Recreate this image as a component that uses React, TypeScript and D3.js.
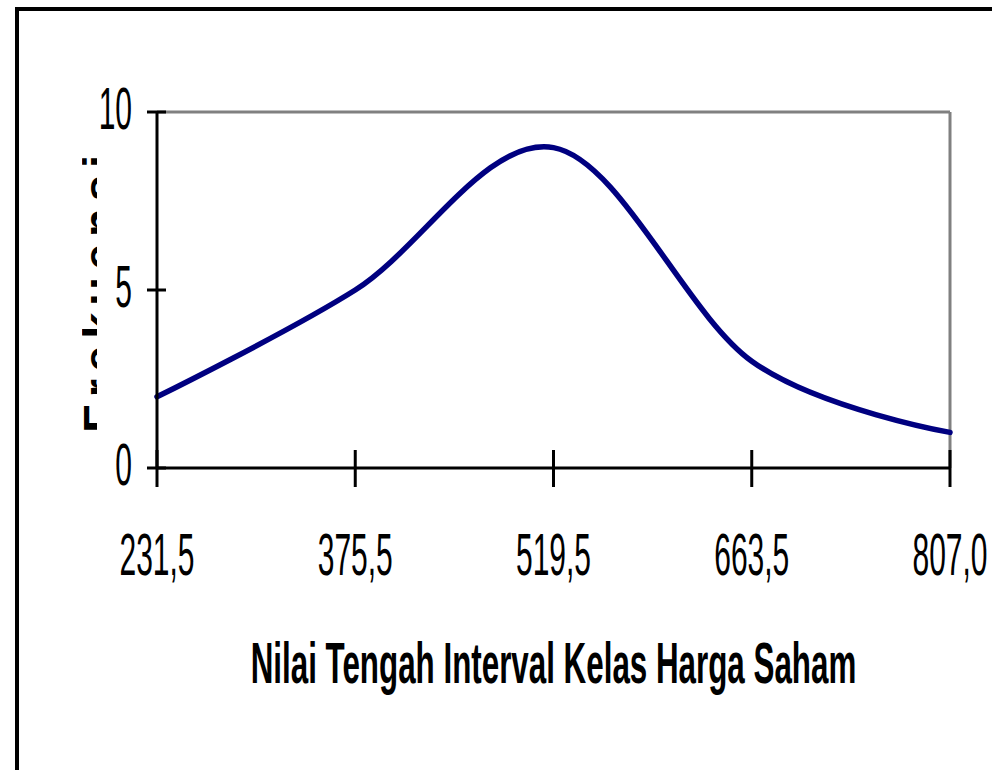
import React from "react";
import * as d3 from "d3";

const categories = ["231,5", "375,5", "519,5", "663,5", "807,0"];
const frequencies = [2, 5, 9, 3, 1];
const yTicks = [0, 5, 10];
const xTitle = "Nilai Tengah Interval Kelas Harga Saham";
const yTitle = "Frekuensi";

const W = 992;
const H = 770;
const left = 157;
const right = 950;
const top = 112;
const bottom = 468;
const FONT = "'Liberation Sans', Arial, sans-serif";

export default function App() {
  const x = d3.scalePoint<string>().domain(categories).range([left, right]);
  const y = d3.scaleLinear().domain([0, 10]).range([bottom, top]);
  const line = d3
    .line<number>()
    .x((_, i) => x(categories[i]) as number)
    .y((d) => y(d))
    .curve(d3.curveCardinal.tension(0));
  const path = line(frequencies) || "";

  return (
    <svg
      width={W}
      height={H}
      style={{ position: "absolute", left: 0, top: 0, background: "#fff" }}
    >
      <defs>
        <clipPath id="ylab">
          <rect x={82} y={0} width={15} height={H} />
        </clipPath>
      </defs>
      <rect x={0} y={0} width={W} height={H} fill="#fff" />
      {/* outer frame */}
      <rect x={17} y={9} width={W + 20} height={H + 20} fill="none" stroke="#000" strokeWidth={4} />

      {/* plot area gray border top & right */}
      <line x1={left} y1={top} x2={right} y2={top} stroke="#808080" strokeWidth={3} />
      <line x1={right} y1={top} x2={right} y2={bottom} stroke="#808080" strokeWidth={3} />

      {/* series */}
      <path d={path} fill="none" stroke="#000080" strokeWidth={5.5} strokeLinejoin="round" strokeLinecap="round" />

      {/* y axis */}
      <line x1={left} y1={top} x2={left} y2={bottom} stroke="#000" strokeWidth={3} />
      {yTicks.map((t) => (
        <g key={t}>
          <line x1={147} x2={166} y1={y(t)} y2={y(t)} stroke="#000" strokeWidth={3} />
          <text
            transform={`translate(132,${y(t) + 17}) scale(0.5,1)`}
            textAnchor="end"
            fontFamily={FONT}
            fontSize={60}
            fill="#000"
          >
            {t}
          </text>
        </g>
      ))}

      {/* x axis */}
      <line x1={left} y1={bottom} x2={right} y2={bottom} stroke="#000" strokeWidth={3} />
      {categories.map((c) => (
        <g key={c}>
          <line x1={x(c)} x2={x(c)} y1={450} y2={487} stroke="#000" strokeWidth={3} />
          <text
            transform={`translate(${x(c)},575) scale(0.5,1)`}
            textAnchor="middle"
            fontFamily={FONT}
            fontSize={60}
            fill="#000"
          >
            {c}
          </text>
        </g>
      ))}

      {/* x title */}
      <text
        transform={`translate(${(left + right) / 2},683) scale(0.55,1)`}
        textAnchor="middle"
        fontFamily={FONT}
        fontWeight="bold"
        fontSize={57}
        fill="#000"
      >
        {xTitle}
      </text>

      {/* y title (clipped, as in reference) */}
      <g clipPath="url(#ylab)">
        <text
          transform={`translate(116,${(155 + 433) / 2}) rotate(-90)`}
          textAnchor="middle"
          fontFamily={FONT}
          fontWeight="bold"
          fontSize={47}
          textLength={278}
          lengthAdjust="spacing"
          fill="#000"
        >
          {yTitle}
        </text>
      </g>
    </svg>
  );
}
